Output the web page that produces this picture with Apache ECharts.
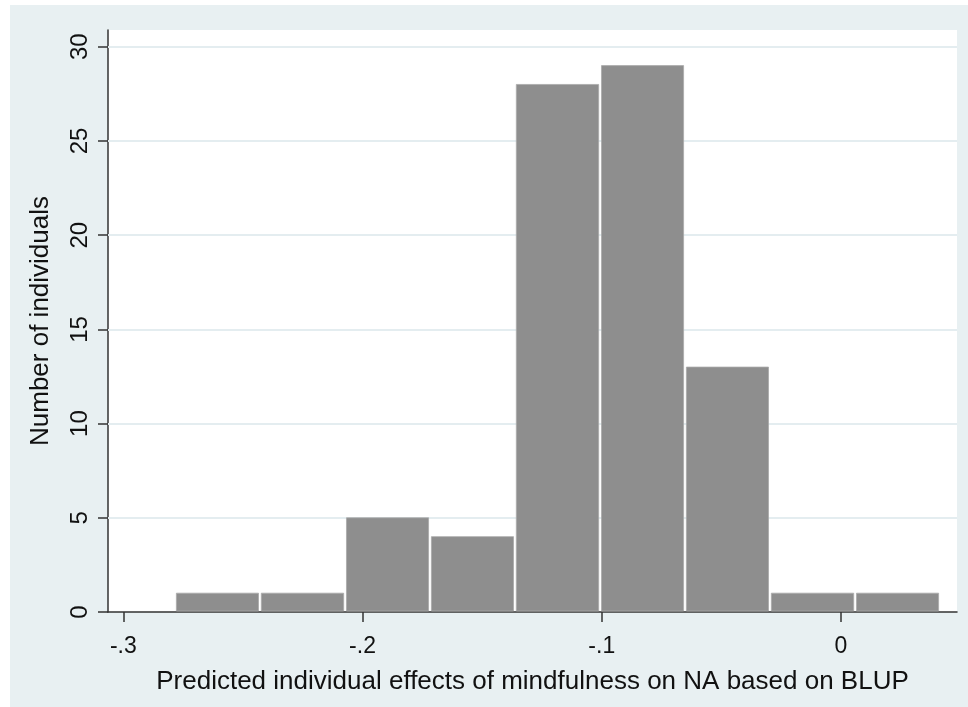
<!DOCTYPE html>
<html>
<head>
<meta charset="utf-8">
<script src="https://cdn.jsdelivr.net/npm/echarts@6/dist/echarts.min.js"></script>
<style>
  html, body { margin: 0; padding: 0; background: #ffffff; }
  #chart { width: 968px; height: 707px; }
</style>
</head>
<body>
<div id="chart"></div>
<script>
// Histogram bins: edges of the 9 equal-width bins and the count in each
const binEdges = [-0.2784, -0.2429, -0.2073, -0.1718, -0.1363, -0.1007, -0.0652, -0.0297, 0.0059, 0.0414];
const binCounts = [1, 1, 5, 4, 28, 29, 13, 1, 1];

// Axis ticks and their labels
const xTickValues = [-0.3, -0.2, -0.1, 0];
const xTickLabels = ['-.3', '-.2', '-.1', '0'];
const yTickValues = [0, 5, 10, 15, 20, 25, 30];

const xTitle = 'Predicted individual effects of mindfulness on NA based on BLUP';
const yTitle = 'Number of individuals';

const bins = binCounts.map((c, i) => [binEdges[i], binEdges[i + 1], c]);
const gridValues = yTickValues.filter(v => v > 0);

const FONT = '"Liberation Sans", Arial, Helvetica, sans-serif';
const chart = echarts.init(document.getElementById('chart'), null, { renderer: 'canvas' });

chart.setOption({
  backgroundColor: '#ffffff',
  animation: false,
  textStyle: { fontFamily: FONT, color: '#111111' },
  graphic: [{
    type: 'rect',
    z: -10,
    silent: true,
    shape: { x: 10, y: 5, width: 958, height: 702 },
    style: { fill: '#e8f0f2' }
  }],
  grid: {
    left: 108, top: 30, right: 11, bottom: 95,
    show: true, backgroundColor: '#ffffff', borderWidth: 0
  },
  xAxis: {
    type: 'value',
    min: -0.3064,
    max: 0.0485,
    name: xTitle,
    nameLocation: 'middle',
    nameGap: 57,
    nameTextStyle: { fontSize: 26, color: '#111111', fontFamily: FONT },
    axisLine: { show: true, onZero: false, lineStyle: { color: '#333333', width: 1.5 } },
    axisTick: { show: true, length: 10, customValues: xTickValues, lineStyle: { color: '#333333', width: 1.5 } },
    axisLabel: {
      customValues: xTickValues,
      margin: 23,
      fontSize: 23,
      color: '#111111',
      fontFamily: FONT,
      formatter: v => {
        const i = xTickValues.findIndex(t => Math.abs(t - v) < 1e-9);
        return i >= 0 ? xTickLabels[i] : '';
      }
    },
    splitLine: { show: false }
  },
  yAxis: {
    type: 'value',
    min: 0,
    max: 30.89,
    name: yTitle,
    nameLocation: 'middle',
    nameGap: 54,
    nameRotate: 90,
    nameTextStyle: { fontSize: 26, color: '#111111', fontFamily: FONT },
    axisLine: { show: true, onZero: false, lineStyle: { color: '#333333', width: 1.5 } },
    axisTick: { show: true, length: 10, customValues: yTickValues, lineStyle: { color: '#333333', width: 1.5 } },
    axisLabel: {
      customValues: yTickValues,
      rotate: 90,
      margin: 16,
      fontSize: 24,
      color: '#111111',
      fontFamily: FONT
    },
    splitLine: { show: false }
  },
  series: [
    {
      // horizontal grid lines behind the bars
      type: 'line',
      data: [],
      z: 1,
      silent: true,
      markLine: {
        silent: true,
        symbol: 'none',
        label: { show: false },
        lineStyle: { color: '#e4edf0', width: 2, type: 'solid' },
        data: gridValues.map(v => ({ yAxis: v }))
      }
    },
    {
      type: 'custom',
      z: 20,
      data: bins,
      encode: { x: [0, 1], y: 2 },
      renderItem: (params, api) => {
        const p0 = api.coord([api.value(0), api.value(2)]);
        const p1 = api.coord([api.value(1), 0]);
        const gap = 1.4;
        return {
          type: 'rect',
          shape: {
            x: p0[0] + gap,
            y: p0[1],
            width: p1[0] - p0[0] - 2 * gap,
            height: p1[1] - 1 - p0[1]
          },
          style: { fill: '#8e8e8e', stroke: '#a9a9a9', lineWidth: 0.8 }
        };
      }
    }
  ]
});
</script>
</body>
</html>
